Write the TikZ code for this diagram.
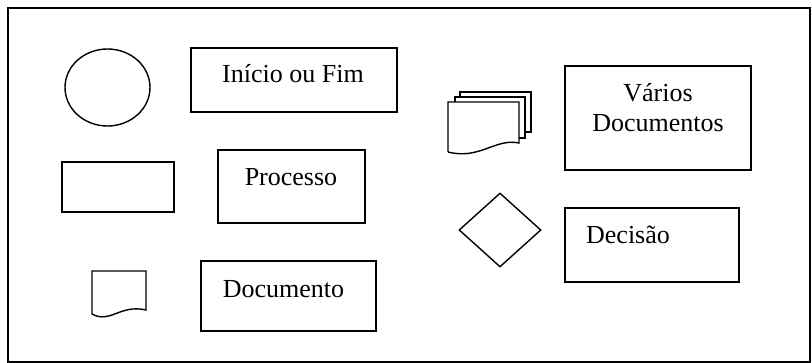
\documentclass[tikz,border=0pt]{standalone}
\usepackage{fontspec}
\setmainfont{Liberation Serif}
\usetikzlibrary{shapes.geometric}
\begin{document}
\begin{tikzpicture}[x=0.5pt, y=-0.5pt, line width=0.7pt, every node/.style={font=\fontsize{13}{15}\selectfont},
  box/.style={draw,inner sep=0pt},
  lbl/.style={anchor=base,align=center,inner sep=0pt}]
\useasboundingbox (0,0) rectangle (812,363);
\draw (8,8) rectangle (810,362);
% symbols
\node[draw,ellipse,inner sep=0pt,minimum width=42.5pt,minimum height=38.5pt] (term) at (107.5,87.5) {};
\node[box,minimum width=56pt,minimum height=25pt] (proc) at (118,187) {};
\draw (92,314) -- (92,271) coordinate (docsym) -- (146,271) -- (146,310) .. controls (120,304) and (110,324) .. (92,314);
\draw (460,97) -- (460,92) -- (531,92) -- (531,132) -- (525,132);
\draw (455,102) -- (455,97) -- (525,97) -- (525,138) -- (519,138);
\draw (448,152) -- (448,102) coordinate (multi) -- (519,102) -- (519,143) .. controls (495,138) and (480,160) .. (448,152);
\node[draw,diamond,inner sep=0pt,minimum width=41pt,minimum height=37pt] (dec) at (500,230) {};
% labels
\node[box,minimum width=103pt,minimum height=32pt] (ini) at (294,80) {};
\node[lbl] (tini) at (293,83) {Início ou Fim};
\node[box,minimum width=73.5pt,minimum height=36.5pt] (proclbl) at (291.5,186.5) {};
\node[lbl] (tproc) at (291,185) {Processo};
\node[box,minimum width=87.5pt,minimum height=35pt] (doc) at (288.5,296) {};
\node[lbl] (tdoc) at (283.5,297) {Documento};
\node[box,minimum width=93pt,minimum height=52pt] (varios) at (658,118) {};
\node[lbl] (tvar) at (658,132) {Vários\\Documentos};
\node[box,minimum width=87pt,minimum height=37pt] (declbl) at (652,245) {};
\node[lbl] (tdec) at (628,243) {Decisão};
\end{tikzpicture}
\end{document}
